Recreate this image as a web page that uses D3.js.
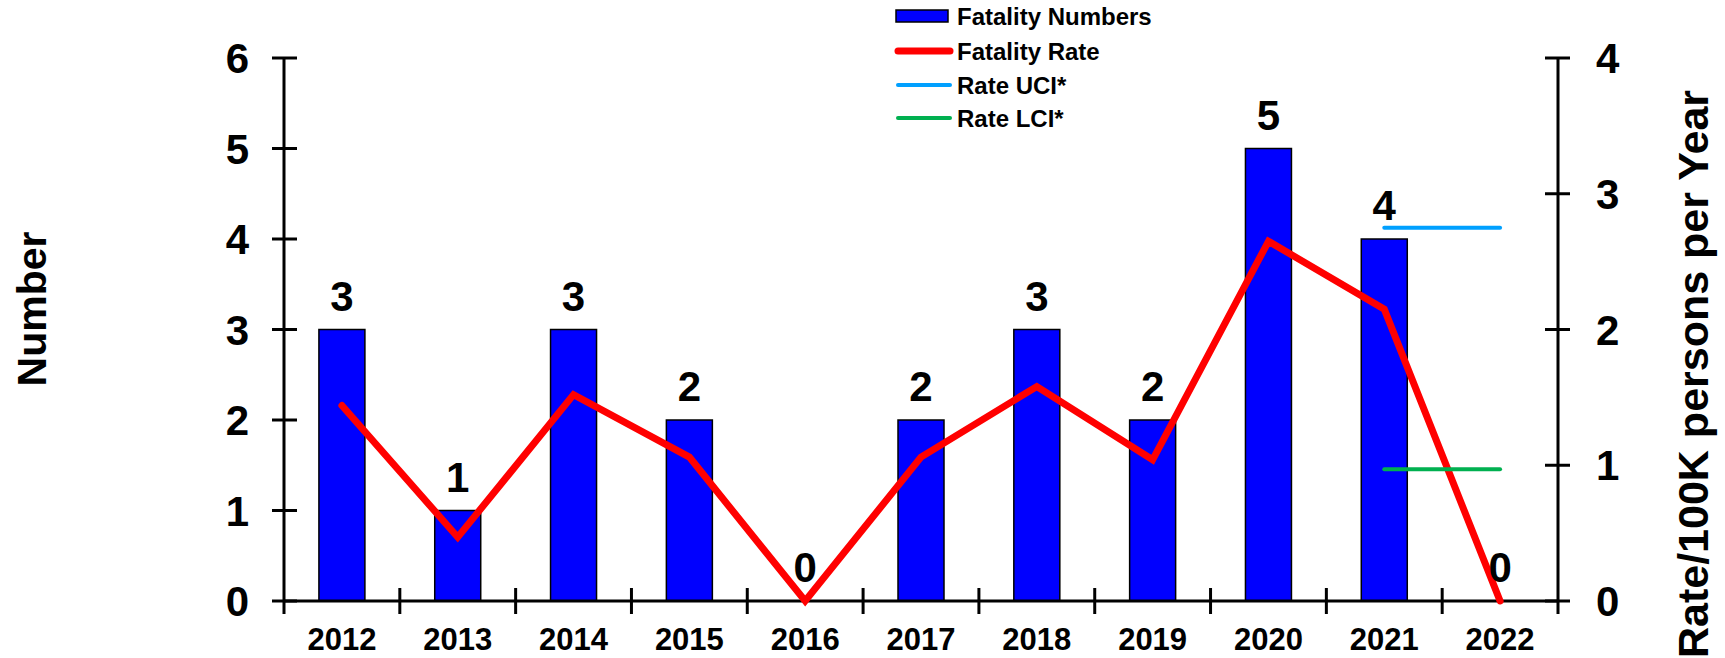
<!DOCTYPE html>
<html>
<head>
<meta charset="utf-8">
<script src="https://cdn.jsdelivr.net/npm/d3@7"></script>
<style>
  html, body { margin: 0; padding: 0; background: #fff; }
  svg { display: block; font-family: "Liberation Sans", Arial, sans-serif; font-weight: bold; }
</style>
</head>
<body>
<svg id="chart" width="1725" height="658"></svg>
<script>
// ---- data ----
const years = ["2012","2013","2014","2015","2016","2017","2018","2019","2020","2021","2022"];
const fatalityNumbers = [3, 1, 3, 2, 0, 2, 3, 2, 5, 4, 0];
const fatalityRate = [1.44, 0.47, 1.52, 1.06, 0, 1.06, 1.58, 1.04, 2.65, 2.15, 0];
const rateUCI = [null, null, null, null, null, null, null, null, null, 2.75, 2.75];
const rateLCI = [null, null, null, null, null, null, null, null, null, 0.97, 0.97];
const leftTicks = [0, 1, 2, 3, 4, 5, 6];
const rightTicks = [0, 1, 2, 3, 4];
const legendLabels = ["Fatality Numbers", "Fatality Rate", "Rate UCI*", "Rate LCI*"];

// ---- layout ----
const svg = d3.select("#chart");
const X0 = 284, X1 = 1558, Y0 = 601, Y1 = 58;
const barW = 46;
const step = (X1 - X0) / years.length;
const pi = 1 - barW / step;

const x = d3.scaleBand().domain(years).range([X0, X1]).paddingInner(pi).paddingOuter(pi / 2);
const yL = d3.scaleLinear().domain([0, 6]).range([Y0, Y1]);
const yR = d3.scaleLinear().domain([0, 4]).range([Y0, Y1]);
const cx = d => x(d) + x.bandwidth() / 2;

// bars
svg.append("g").selectAll("rect").data(years).join("rect")
  .attr("x", d => x(d))
  .attr("y", (d, i) => yL(fatalityNumbers[i]))
  .attr("width", x.bandwidth())
  .attr("height", (d, i) => Y0 - yL(fatalityNumbers[i]))
  .attr("fill", "#0000FF")
  .attr("stroke", "#000")
  .attr("stroke-width", 1.5);

// x axis line & boundary ticks
const gx = svg.append("g");
gx.append("line").attr("x1", X0).attr("x2", X1).attr("y1", Y0).attr("y2", Y0)
  .attr("stroke", "#000").attr("stroke-width", 3);
gx.selectAll("line.tk").data(years.slice(1)).join("line").attr("class", "tk")
  .attr("x1", d => x(d) - x.step() * pi / 2).attr("x2", d => x(d) - x.step() * pi / 2)
  .attr("y1", Y0 - 13).attr("y2", Y0 + 13)
  .attr("stroke", "#000").attr("stroke-width", 3);
gx.selectAll("text").data(years).join("text")
  .attr("x", d => cx(d)).attr("y", 650)
  .attr("text-anchor", "middle").attr("font-size", 31).attr("fill", "#000")
  .text(d => d);

// left axis
const gl = svg.append("g");
gl.append("line").attr("x1", X0).attr("x2", X0).attr("y1", Y1).attr("y2", Y0 + 13)
  .attr("stroke", "#000").attr("stroke-width", 3);
gl.selectAll("line.tk").data(leftTicks).join("line").attr("class", "tk")
  .attr("x1", X0 - 12).attr("x2", X0 + 13).attr("y1", d => yL(d)).attr("y2", d => yL(d))
  .attr("stroke", "#000").attr("stroke-width", 3);
gl.selectAll("text").data(leftTicks).join("text")
  .attr("x", 249).attr("y", d => yL(d)).attr("dy", "0.36em")
  .attr("text-anchor", "end").attr("font-size", 42).attr("fill", "#000")
  .text(d => d);

// right axis
const gr = svg.append("g");
gr.append("line").attr("x1", X1).attr("x2", X1).attr("y1", Y1).attr("y2", Y0 + 13)
  .attr("stroke", "#000").attr("stroke-width", 3);
gr.selectAll("line.tk").data(rightTicks).join("line").attr("class", "tk")
  .attr("x1", X1 - 13).attr("x2", X1 + 12).attr("y1", d => yR(d)).attr("y2", d => yR(d))
  .attr("stroke", "#000").attr("stroke-width", 3);
gr.selectAll("text").data(rightTicks).join("text")
  .attr("x", 1596).attr("y", d => yR(d)).attr("dy", "0.36em")
  .attr("text-anchor", "start").attr("font-size", 42).attr("fill", "#000")
  .text(d => d);

// axis titles
svg.append("text").attr("transform", "translate(46,309) rotate(-90)")
  .attr("text-anchor", "middle").attr("font-size", 41).attr("fill", "#000").text("Number");
svg.append("text").attr("transform", "translate(1708,374) rotate(-90)")
  .attr("text-anchor", "middle").attr("font-size", 43).attr("fill", "#000").text("Rate/100K persons per Year");

// rate line
const lineGen = d3.line().defined(d => d[1] != null).x(d => cx(d[0])).y(d => yR(d[1]));
svg.append("path").datum(years.map((d, i) => [d, fatalityRate[i]]))
  .attr("d", lineGen).attr("fill", "none").attr("stroke", "#FF0000")
  .attr("stroke-width", 7).attr("stroke-linejoin", "miter").attr("stroke-linecap", "round");
svg.append("path").datum(years.map((d, i) => [d, rateUCI[i]]))
  .attr("d", lineGen).attr("fill", "none").attr("stroke", "#00A0FF")
  .attr("stroke-width", 4).attr("stroke-linecap", "round");
svg.append("path").datum(years.map((d, i) => [d, rateLCI[i]]))
  .attr("d", lineGen).attr("fill", "none").attr("stroke", "#00B050")
  .attr("stroke-width", 4).attr("stroke-linecap", "round");

// bar value labels
svg.append("g").selectAll("text").data(years).join("text")
  .attr("x", d => cx(d))
  .attr("y", (d, i) => yL(fatalityNumbers[i]) - 19)
  .attr("text-anchor", "middle").attr("font-size", 42).attr("fill", "#000")
  .text((d, i) => fatalityNumbers[i]);

// legend
const lg = svg.append("g");
const rowY = [16, 51, 85, 118];
lg.append("rect").attr("x", 896).attr("y", rowY[0] - 6).attr("width", 52).attr("height", 12)
  .attr("fill", "#0000FF").attr("stroke", "#000").attr("stroke-width", 1.5);
const legStyles = [null, ["#FF0000", 7], ["#00A0FF", 4], ["#00B050", 4]];
legStyles.forEach((s, i) => {
  if (!s) return;
  lg.append("line").attr("x1", 898).attr("x2", 950).attr("y1", rowY[i]).attr("y2", rowY[i])
    .attr("stroke", s[0]).attr("stroke-width", s[1]).attr("stroke-linecap", "round");
});
lg.selectAll("text").data(legendLabels).join("text")
  .attr("x", 957).attr("y", (d, i) => rowY[i]).attr("dy", "0.36em")
  .attr("font-size", 24).attr("fill", "#000").text(d => d);
</script>
</body>
</html>
